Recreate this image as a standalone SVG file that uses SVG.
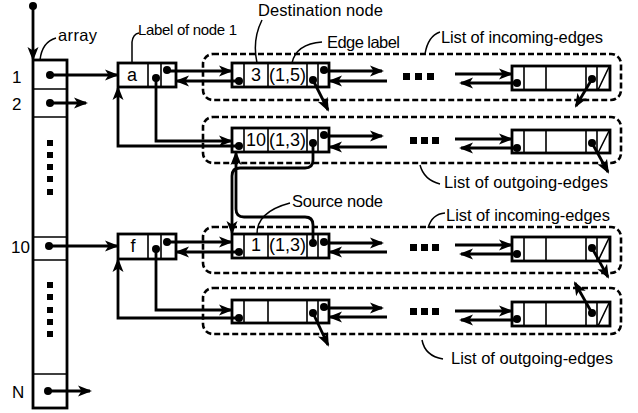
<svg xmlns="http://www.w3.org/2000/svg" width="638" height="413" viewBox="0 0 638 413">
<style>
 .t{font-family:"Liberation Sans",Arial,sans-serif;font-size:16.5px;fill:#000}
 .n{font-family:"Liberation Sans",Arial,sans-serif;font-size:18px;fill:#000;text-anchor:middle}
 .box{fill:#fff;stroke:#000;stroke-width:2.8}
 .div{stroke:#000;stroke-width:1.6}
 .ln{fill:none;stroke:#000;stroke-width:2.8}
 .ar{marker-end:url(#ah)}
 .dash{fill:none;stroke:#000;stroke-width:2.6;stroke-dasharray:6 3}
 .lead{fill:none;stroke:#000;stroke-width:1.5}
 .dot{fill:#000}
</style>
<defs>
 <marker id="ah" markerUnits="userSpaceOnUse" markerWidth="15" markerHeight="12" refX="12" refY="6" orient="auto"><path d="M0,0.5 L14,6 L0,11.5 L3.5,6 z" fill="#000"/></marker>
</defs>
<rect width="638" height="413" fill="#fff"/>

<g id="containers">
 <rect class="dash" x="203" y="54" width="418" height="46" rx="10"/>
 <rect class="dash" x="203" y="117" width="418" height="46" rx="10"/>
 <rect class="dash" x="203" y="227" width="418" height="46" rx="10"/>
 <rect class="dash" x="203" y="288" width="418" height="46" rx="10"/>
</g>

<g id="array">
 <rect class="box" x="33" y="60" width="34" height="348"/>
 <path class="div" d="M33,89H67M33,117H67M33,237H67M33,260H67M33,374H67" stroke-width="2"/>
 <g fill="#000">
  <rect x="47" y="140" width="6" height="6"/><rect x="47" y="152" width="6" height="6"/><rect x="47" y="164" width="6" height="6"/><rect x="47" y="176" width="6" height="6"/><rect x="47" y="189" width="6" height="6"/>
  <rect x="47" y="282" width="6" height="6"/><rect x="47" y="294" width="6" height="6"/><rect x="47" y="307" width="6" height="6"/><rect x="47" y="319" width="6" height="6"/><rect x="47" y="331" width="6" height="6"/>
 </g>
 <circle class="dot" cx="50" cy="75" r="4"/>
 <circle class="dot" cx="50" cy="103" r="4"/>
 <circle class="dot" cx="49" cy="246" r="4"/>
 <circle class="dot" cx="48" cy="391" r="4"/>
 <text class="t" x="12" y="83" style="font-size:17px">1</text>
 <text class="t" x="12" y="110" style="font-size:17px">2</text>
 <text class="t" x="11" y="253" style="font-size:17px">10</text>
 <text class="t" x="12" y="398" style="font-size:17px">N</text>
 <text class="t" x="58" y="41" textLength="39">array</text>
 <path class="lead" d="M40,60 Q42,42 56,38"/>
</g>

<g id="node-a">
 <rect class="box" x="118" y="63" width="58" height="24"/>
 <path class="div" d="M148,63V87M161,63V87"/>
 <text class="n" x="132" y="81">a</text>
 <circle class="dot" cx="156" cy="78" r="4"/>
 <circle class="dot" cx="167" cy="70" r="4"/>
 <text class="t" x="138" y="35" style="font-size:15px" textLength="99">Label of node 1</text>
 <path class="lead" d="M132,63 L132,42 Q133,34 139,33"/>
</g>

<g id="node-f">
 <rect class="box" x="118" y="234" width="58" height="25"/>
 <path class="div" d="M148,234V259M161,234V259"/>
 <text class="n" x="133" y="252">f</text>
 <circle class="dot" cx="156" cy="249" r="4"/>
 <circle class="dot" cx="167" cy="242" r="4"/>
</g>

<g id="edge-in-a-1">
 <rect class="box" x="232" y="63" width="97" height="24"/>
 <path class="div" d="M244,63V87M268,63V87M307,63V87M318,63V87"/>
 <text class="n" x="256" y="81">3</text>
 <text class="n" x="287.5" y="81">(1,5)</text>
 <circle class="dot" cx="239" cy="81" r="4"/>
 <circle class="dot" cx="313" cy="80" r="4"/>
 <circle class="dot" cx="324" cy="70" r="4"/>
</g>
<g id="edge-in-a-last">
 <rect class="box" x="512" y="66" width="98" height="24"/>
 <path class="div" d="M524,66V90M546,66V90M586,66V90M597,66V90M598,90L609,67"/>
 <circle class="dot" cx="517" cy="83" r="4"/>
 <circle class="dot" cx="592" cy="79" r="4"/>
</g>

<g id="edge-out-a-1">
 <rect class="box" x="232" y="128" width="97" height="24"/>
 <path class="div" d="M244,128V152M268,128V152M307,128V152M318,128V152"/>
 <text class="n" x="256" y="146">10</text>
 <text class="n" x="287.5" y="146">(1,3)</text>
 <circle class="dot" cx="239" cy="146" r="4"/>
 <circle class="dot" cx="313" cy="143" r="4"/>
 <circle class="dot" cx="324" cy="135" r="4"/>
</g>
<g id="edge-out-a-last">
 <rect class="box" x="512" y="130" width="98" height="23"/>
 <path class="div" d="M524,130V153M546,130V153M586,130V153M597,130V153M598,153L609,131"/>
 <circle class="dot" cx="517" cy="148" r="4"/>
 <circle class="dot" cx="592" cy="143" r="4"/>
</g>

<g id="edge-in-f-1">
 <rect class="box" x="232" y="234" width="97" height="24"/>
 <path class="div" d="M244,234V258M268,234V258M307,234V258M318,234V258"/>
 <text class="n" x="256" y="251">1</text>
 <text class="n" x="287.5" y="251">(1,3)</text>
 <circle class="dot" cx="239" cy="252" r="4"/>
 <circle class="dot" cx="313" cy="243" r="4"/>
 <circle class="dot" cx="324" cy="242" r="4"/>
</g>
<g id="edge-in-f-last">
 <rect class="box" x="512" y="237" width="98" height="24"/>
 <path class="div" d="M524,237V261M546,237V261M586,237V261M597,237V261M598,261L609,238"/>
 <circle class="dot" cx="517" cy="254" r="4"/>
 <circle class="dot" cx="592" cy="248" r="4"/>
</g>

<g id="edge-out-f-1">
 <rect class="box" x="232" y="300" width="97" height="23"/>
 <path class="div" d="M244,300V323M268,300V323M307,300V323M318,300V323"/>
 <circle class="dot" cx="239" cy="318" r="4"/>
 <circle class="dot" cx="313" cy="313" r="4"/>
 <circle class="dot" cx="324" cy="307" r="4"/>
</g>
<g id="edge-out-f-last">
 <rect class="box" x="512" y="302" width="98" height="24"/>
 <path class="div" d="M524,302V326M546,302V326M586,302V326M597,302V326M598,326L609,303"/>
 <circle class="dot" cx="517" cy="319" r="4"/>
 <circle class="dot" cx="592" cy="313" r="4"/>
</g>

<g id="ellipses" fill="#000">
 <rect x="403" y="73" width="7" height="7"/><rect x="415" y="73" width="7" height="7"/><rect x="427" y="73" width="7" height="7"/>
 <rect x="410" y="137" width="7" height="7"/><rect x="421" y="137" width="7" height="7"/><rect x="432" y="137" width="7" height="7"/>
 <rect x="410" y="244" width="7" height="7"/><rect x="421" y="244" width="7" height="7"/><rect x="432" y="244" width="7" height="7"/>
 <rect x="410" y="308" width="7" height="7"/><rect x="421" y="308" width="7" height="7"/><rect x="432" y="308" width="7" height="7"/>
</g>

<g id="connectors">
 <circle class="dot" cx="33" cy="6" r="4"/>
 <path class="ln ar" d="M33,6 L33,59"/>
 <path class="ln ar" d="M50,75 L117,75"/>
 <path class="ln ar" d="M50,103 L86,103"/>
 <path class="ln ar" d="M49,246 L117,246"/>
 <path class="ln ar" d="M48,391 L90,391"/>

 <path class="ln ar" d="M167,71 L231,71"/>
 <path class="ln ar" d="M239,81 L177,81"/>
 <path class="ln ar" d="M156,78 L156,141 L231,141"/>
 <path class="ln ar" d="M239,146 L118,146 L118,88"/>
 <path class="ln ar" d="M167,242 L231,242"/>
 <path class="ln ar" d="M239,252 L177,252"/>
 <path class="ln ar" d="M156,249 L156,310 L231,310"/>
 <path class="ln ar" d="M239,318 L118,318 L118,260"/>

 <path class="ln ar" d="M324,71 L382,71"/>
 <path class="ln ar" d="M387,81 L330,81"/>
 <path class="ln ar" d="M313,80 L328,110"/>
 <path class="ln ar" d="M455,74 L511,74"/>
 <path class="ln ar" d="M517,83 L461,83"/>
 <path class="ln ar" d="M592,79 L576,106"/>

 <path class="ln ar" d="M324,136 L382,136"/>
 <path class="ln ar" d="M387,147 L330,147"/>
 <path class="ln ar" d="M455,139 L511,139"/>
 <path class="ln ar" d="M517,148 L461,148"/>
 <path class="ln ar" d="M592,143 L608,172"/>

 <path class="ln ar" d="M324,243 L382,243"/>
 <path class="ln ar" d="M387,252 L330,252"/>
 <path class="ln ar" d="M455,245 L511,245"/>
 <path class="ln ar" d="M517,254 L461,254"/>
 <path class="ln ar" d="M592,248 L608,277"/>

 <path class="ln ar" d="M324,308 L382,308"/>
 <path class="ln ar" d="M387,317 L330,317"/>
 <path class="ln ar" d="M313,313 L328,345"/>
 <path class="ln ar" d="M455,311 L511,311"/>
 <path class="ln ar" d="M517,320 L461,320"/>
 <path class="ln ar" d="M592,313 L575,283"/>

 <path class="ln ar" d="M313,143 L313,160 Q313,168 305,168 L240,168 Q232,168 232,176 L232,233"/>
 <path class="ln ar" d="M313,243 L313,225 Q313,217 305,217 L244,217 Q236,217 236,209 L236,153"/>
</g>

<g id="labels">
 <text class="t" x="258" y="16" textLength="125">Destination node</text>
 <path class="lead" d="M257,63 Q252,40 262,20"/>
 <text class="t" x="327" y="48" textLength="73">Edge label</text>
 <path class="lead" d="M292,63 Q296,44 322,42"/>
 <text class="t" x="441" y="43" textLength="162">List of incoming-edges</text>
 <path class="lead" d="M425,54 Q428,36 440,32"/>
 <text class="t" x="444" y="188" textLength="164">List of outgoing-edges</text>
 <path class="lead" d="M420,165 Q424,180 440,184"/>
 <text class="t" x="292" y="207" textLength="91">Source node</text>
 <path class="lead" d="M257,235 Q256,212 290,203"/>
 <text class="t" x="446" y="221" textLength="164">List of incoming-edges</text>
 <path class="lead" d="M428,228 Q432,214 445,213"/>
 <text class="t" x="451" y="364" textLength="162">List of outgoing-edges</text>
 <path class="lead" d="M422,340 Q425,356 443,359"/>
</g>
</svg>
